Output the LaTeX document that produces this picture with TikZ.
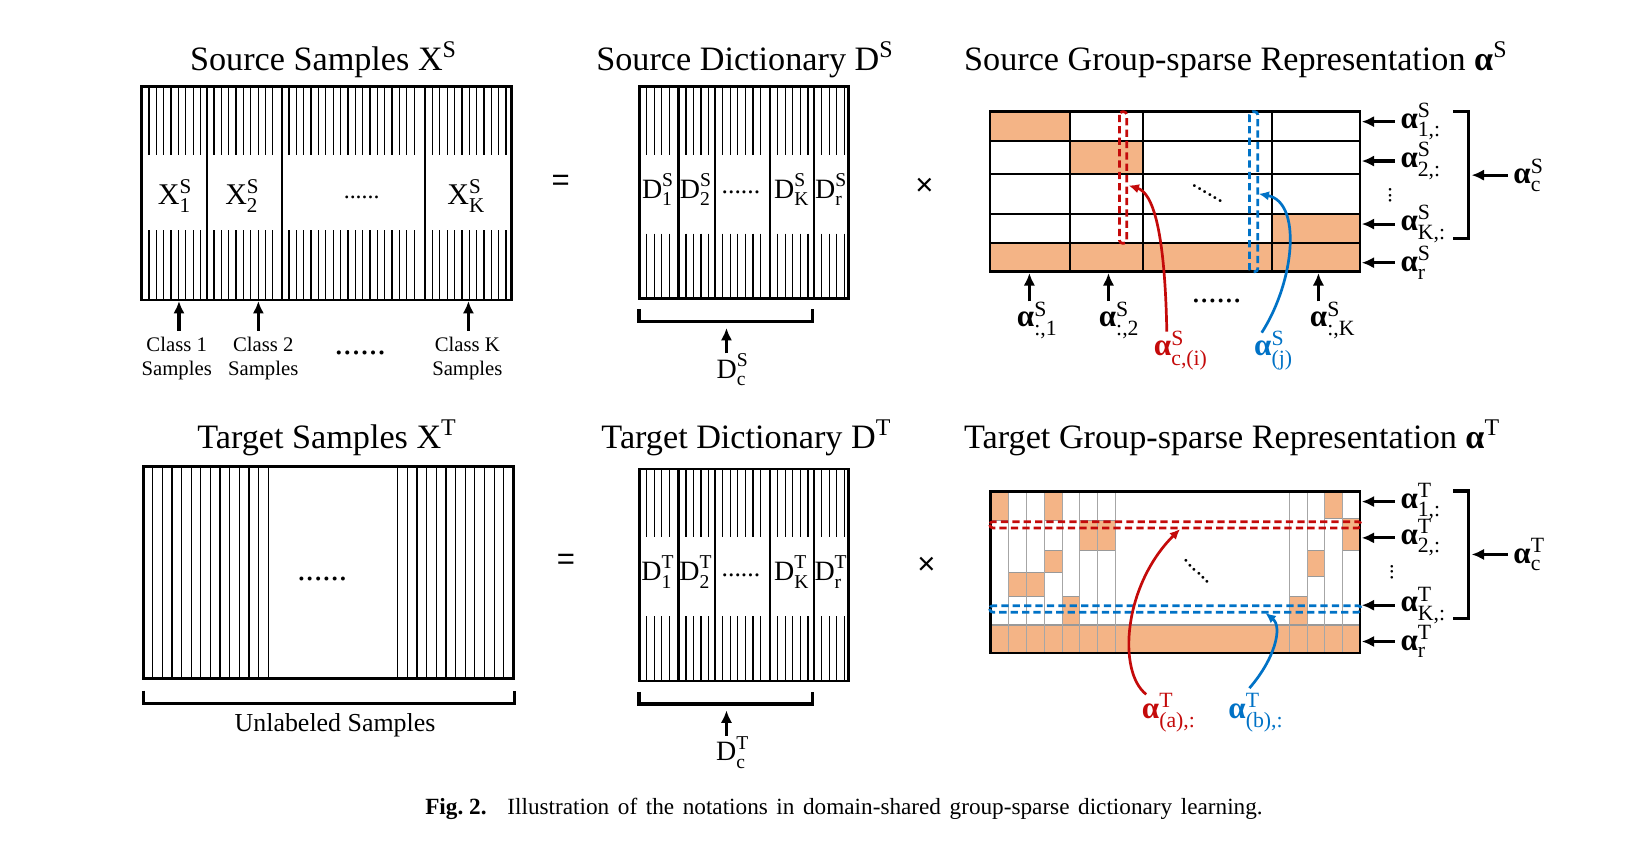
\documentclass[tikz,border=0pt]{standalone}
\usepackage{amsmath}
\usepackage{fontspec}
\setmainfont{Liberation Serif}
\newfontfamily\sansop{Liberation Sans}
\usetikzlibrary{arrows.meta}
\definecolor{fillor}{RGB}{244,180,134}
\definecolor{myred}{RGB}{196,10,10}
\definecolor{myblue}{RGB}{0,114,198}
\newcommand\lab[3]{$\text{#1}^{\text{#2}}_{\text{#3}}$}
\newcommand\alab[2]{$\text{\bfseries α}^{\text{#1}}_{\text{#2}}$}
\begin{document}
\begin{tikzpicture}[x=0.5pt,y=-0.5pt,
  box/.style={line width=1.3pt},
  dv/.style={line width=1.1pt},
  hatch/.style={line width=0.6pt},
  arr/.style={line width=1.5pt,-{Latex[length=6pt,width=5.5pt]}},
  carr/.style={line width=1.3pt,-{Latex[length=5pt,width=4.5pt]}},
  brk/.style={line width=1.7pt},
  ttl/.style={font=\fontsize{16.5}{19}\selectfont,inner sep=0pt,anchor=base west},
  mlab/.style={font=\fontsize{14.5}{16}\selectfont,inner sep=0pt},
  dlab/.style={font=\fontsize{13.5}{15}\selectfont,inner sep=0pt},
  cls/.style={font=\fontsize{10}{11.5}\selectfont,align=center,inner sep=3pt},
  alab/.style={font=\fontsize{15}{17}\selectfont,inner sep=0pt},
  dotsf/.style={font=\fontsize{#1}{#1}\selectfont,inner sep=0pt},
  op/.style={font=\sansop\fontsize{15}{17}\selectfont,inner sep=0pt},
  gline/.style={line width=0.5pt,draw=black!35},
  cell/.style={fill=fillor,draw=black!40,line width=0.5pt},
  rdash/.style={myred,line width=1.3pt,dash pattern=on 3.5pt off 2pt,rounded corners=1.5pt},
  bdash/.style={myblue,line width=1.3pt,dash pattern=on 3.5pt off 2pt,rounded corners=1.5pt},
]
\useasboundingbox (0,0) rectangle (1569,819.2);

% ================= Source samples X^S =================
\node[ttl] (tXS) at (183,67.6) {Source Samples X$^{\text{S}}$};
\foreach \x in {143.8,150.9,...,196}{\draw[hatch] (\x,83.6)--(\x,149.6) (\x,222)--(\x,289.5);}
\foreach \x in {206.5,213.6,...,268}{\draw[hatch] (\x,83.6)--(\x,149.6) (\x,222)--(\x,289.5);}
\foreach \x in {278.9,286,...,406}{\draw[hatch] (\x,83.6)--(\x,149.6) (\x,222)--(\x,289.5);}
\foreach \x in {417.3,424.4,...,490}{\draw[hatch] (\x,83.6)--(\x,149.6) (\x,222)--(\x,289.5);}
\draw[dv] (199.4,83.6)--(199.4,289.5) (271.8,83.6)--(271.8,289.5) (410.2,83.6)--(410.2,289.5);
\draw[box] (136.7,83.6) rectangle (493.8,289.5);
\node[mlab] (x1) at (169,189) {\lab{X}{S}{1}};
\node[mlab] (x2) at (234,189) {\lab{X}{S}{2}};
\node[dotsf=11.5,anchor=base] (xdots) at (349,192) {......};
\node[mlab] (xK) at (450,189) {\lab{X}{S}{K}};
\node[cls] (c1) at (170.5,346) {Class 1\\Samples};
\node[cls] (c2) at (254,346) {Class 2\\Samples};
\node[dotsf=16.5,anchor=base] (cdots) at (347.7,342) {......};
\node[cls] (cK) at (451,346) {Class K\\Samples};
\coordinate (c1t) at (172.7,290.5);
\coordinate (c2t) at (249.3,290.5);
\coordinate (cKt) at (452,290.5);
\draw[arr] (c1t |- c1.north) -- (c1t);
\draw[arr] (c2t |- c2.north) -- (c2t);
\draw[arr] (cKt |- cK.north) -- (cKt);

% ================= Target samples X^T =================
\node[ttl] (tXT) at (190,432.6) {Target Samples X$^{\text{T}}$};
\foreach \x in {147.3,156.6,...,260}{\draw[hatch] (\x,450.3)--(\x,654.6);}
\foreach \x in {383.8,393.1,...,487}{\draw[hatch] (\x,450.3)--(\x,654.6);}
\draw[box] (138.3,450.3) rectangle (495.4,654.6);
\node[dotsf=16,anchor=base] (tdots) at (311,560) {......};
\draw[brk] (138.3,666.5) -- (138.3,678.8) -- (496.5,678.8) -- (496.5,666.5);
\node[font=\fontsize{12.5}{14}\selectfont,inner sep=0pt] (unl) at (323.3,699.7) {Unlabeled Samples};

% ================= Dictionaries =================
\node[ttl] (tDS) at (575,67.6) {Source Dictionary D$^{\text{S}}$};
\node[ttl] (tDT) at (580,432.6) {Target Dictionary D$^{\text{T}}$};
\foreach \oy/\s in {0/S,369/T}{
\begin{scope}[shift={(0,\oy)}]
\foreach \x in {623.9,631.2,...,651, 661.9,669.2,...,687, 697.3,704.6,...,738, 750.4,757.7,...,782, 792.8,800.1,...,815}
  {\draw[hatch] (\x,83.6)--(\x,149.6) (\x,225.5)--(\x,288);}
\draw[dv] (654.8,83.6)--(654.8,288) (689.6,83.6)--(689.6,288) (743,83.6)--(743,288) (785.2,83.6)--(785.2,288);
\draw[box] (616.8,83.6) rectangle (819,288);
\node[dlab] (d1\s) at (635,183) {\lab{D}{\s}{1}};
\node[dlab] (d2\s) at (671.5,183) {\lab{D}{\s}{2}};
\node[dotsf=12.4,anchor=base] (dd\s) at (715,187) {......};
\node[dlab] (dK\s) at (764,183) {\lab{D}{\s}{K}};
\node[dlab] (dr\s) at (802,183) {\lab{D}{\s}{r}};
\draw[brk] (616.8,298.5) -- (616.8,310.4) -- (783.9,310.4) -- (783.9,298.5);
\node[dlab] (dc\s) at (707,357) {\lab{D}{\s}{c}};
\coordinate (dct\s) at (701,316.5);
\draw[arr] (dct\s |- dc\s.north) -- (dct\s);
\end{scope}
}
\node[op] (eq1) at (541,176) {=};
\node[op] (eq2) at (546,542) {=};
\node[op] (mul1) at (892,180) {×};
\node[op] (mul2) at (894,546) {×};

% ================= Source alpha =================
\node[ttl] (tAS) at (930,68) {Source Group-sparse Representation {\bfseries α}$^{\text{S}}$};
\fill[fillor] (955.4,107.8) rectangle (1032.6,135.7);
\fill[fillor] (1032.6,135.7) rectangle (1102.7,167.9);
\fill[fillor] (1227.8,206.8) rectangle (1312.4,234.8);
\fill[fillor] (955.4,234.8) rectangle (1312.4,262.2);
\draw[line width=1pt] (955.4,135.7)--(1312.4,135.7) (955.4,167.9)--(1312.4,167.9)
  (955.4,206.8)--(1312.4,206.8) (955.4,234.8)--(1312.4,234.8)
  (1032.6,107.8)--(1032.6,262.2) (1102.7,107.8)--(1102.7,262.2) (1227.8,107.8)--(1227.8,262.2);
\draw[box] (955.4,107.8) rectangle (1312.4,262.2);
\draw[rdash] (1080.2,107.8) rectangle (1087.2,234.8);
\draw[bdash] (1205.6,107.8) rectangle (1213.7,262.2);
\node[dotsf=11.5,rotate=-30.5] (sdiag) at (1165,187) {......};
\node[alab] (ac1) at (1001,309) {\alab{S}{:,1}};
\node[alab] (ac2) at (1080,309) {\alab{S}{:,2}};
\node[dotsf=16,anchor=base] (acd) at (1174,292) {......};
\node[alab] (acK) at (1286,309) {\alab{S}{:,K}};
\coordinate (ac1t) at (993.3,263.5);
\coordinate (ac2t) at (1069.6,263.5);
\coordinate (acKt) at (1272.2,263.5);
\draw[arr] (ac1t |- ac1.north) -- (ac1t);
\draw[arr] (ac2t |- ac2.north) -- (ac2t);
\draw[arr] (acKt |- acK.north) -- (acKt);
\node[alab,text=myred] (aci) at (1139.6,338) {\alab{S}{c,(i)}};
\node[alab,text=myblue] (aj) at (1229,338) {\alab{S}{(j)}};
\coordinate (rsS) at (1125.9,320);
\coordinate (rtS) at (1089,179);
\coordinate (bsS) at (1217.5,321);
\coordinate (btS) at (1214.5,187);
\draw[carr,myred] (rsS) .. controls (1124,220) and (1112,186) .. (rtS);
\draw[carr,myblue] (bsS) .. controls (1250,270) and (1256,195) .. (btS);
% right labels
\foreach \yy/\sub/\nm in {117.4/{1,:}/r1S,155.4/{2,:}/r2S,216.2/{K,:}/rKS,253.5/r/rrS}{
  \node[alab,anchor=west] (\nm) at (1351,\yy) {\alab{S}{\sub}};
  \coordinate (\nm t) at (1314,\yy);
  \draw[arr] ([xshift=-2.5pt]\nm.west) -- (\nm t);
}
\node[dotsf=10.5,rotate=90] (vdS) at (1341.4,188.5) {...};
\draw[brk] (1402.5,107.8) -- (1417,107.8) -- (1417,230) -- (1402.5,230);
\node[alab,anchor=west] (acS) at (1460,169) {\alab{S}{c}};
\coordinate (acSt) at (1420,169);
\draw[arr] ([xshift=-2.5pt]acS.west) -- (acSt);

% ================= Target alpha =================
\node[ttl] (tAT) at (930,433) {Target Group-sparse Representation {\bfseries α}$^{\text{T}}$};
\draw[cell] (956,474.5) rectangle (973.2,501.8);
\draw[cell] (1007.7,474.5) rectangle (1024.9,501.8);
\draw[cell] (1042.1,501.8) rectangle (1076.5,530.8);
\draw[cell] (1007.7,530.8) rectangle (1024.9,552.6);
\draw[cell] (973.2,552.6) rectangle (1007.7,575.2);
\draw[cell] (1024.9,575.2) rectangle (1042.1,603.1);
\draw[cell] (1278.5,474.5) rectangle (1295.7,500.2);
\draw[cell] (1295.7,500.2) rectangle (1312.4,530.8);
\draw[cell] (1261.2,531.4) rectangle (1278.5,556.5);
\draw[cell] (1244.2,575.2) rectangle (1261.2,603.1);
\draw[cell] (956,603.1) rectangle (1312.4,630);
\foreach \x in {973.2,990.4,1007.7,1024.9,1042.1,1059.3,1076.5,1244.2,1261.2,1278.5,1295.7}
  {\draw[gline] (\x,474.5)--(\x,630);}
\draw[box] (956,474.5) rectangle (1312.4,630);
\draw[rdash] (955,503.4) rectangle (1313.5,509.4);
\draw[bdash] (955,584.5) rectangle (1313.5,590.7);
\node[dotsf=11.5,rotate=-44] (tdiag) at (1155,551.5) {......};
\node[alab,text=myred] (aa) at (1128,688) {\alab{T}{(a),:}};
\node[alab,text=myblue] (ab) at (1212,688) {\alab{T}{(b),:}};
\coordinate (rsT) at (1106,670);
\coordinate (rtT) at (1138.7,510.5);
\coordinate (bsT) at (1205.6,664);
\coordinate (btT) at (1221,591.5);
\draw[carr,myred] (rsT) .. controls (1078,648) and (1084,565) .. (rtT);
\draw[carr,myblue] (bsT) .. controls (1230,636) and (1238,605) .. (btT);
\foreach \yy/\sub/\nm in {484/{1,:}/r1T,519/{2,:}/r2T,584/{K,:}/rKT,619/r/rrT}{
  \node[alab,anchor=west] (\nm) at (1351,\yy) {\alab{T}{\sub}};
  \coordinate (\nm t) at (1314,\yy);
  \draw[arr] ([xshift=-2.5pt]\nm.west) -- (\nm t);
}
\node[dotsf=10.5,rotate=90] (vdT) at (1343,552) {...};
\draw[brk] (1402.5,474) -- (1417,474) -- (1417,597) -- (1402.5,597);
\node[alab,anchor=west] (acT) at (1460,535) {\alab{T}{c}};
\coordinate (acTt) at (1420,535);
\draw[arr] ([xshift=-2.5pt]acT.west) -- (acTt);

% ================= Caption =================
\node[anchor=base west,inner sep=0pt,font=\fontsize{11.2}{13}\selectfont] (cap) at (410,786)
  {\makebox[404pt][s]{\mbox{\bfseries Fig.~2.}\hspace{0.9em}Illustration of the notations in domain-shared group-sparse dictionary learning.}};
\end{tikzpicture}
\end{document}
